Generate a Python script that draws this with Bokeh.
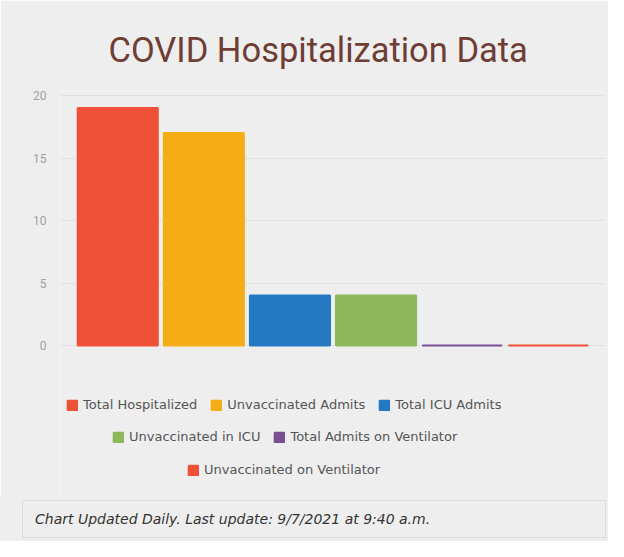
from bokeh.plotting import figure
from bokeh.models import (ColumnDataSource, FactorRange, Range1d, Legend, LegendItem,
                          FixedTicker, Div)
from bokeh.layouts import column
from bokeh.embed import file_html
from bokeh.resources import INLINE

categories = ["Total Hospitalized", "Unvaccinated Admits", "Total ICU Admits",
              "Unvaccinated in ICU", "Total Admits on Ventilator", "Unvaccinated on Ventilator"]
values = [19, 17, 4, 4, 0, 0]
colors = ["#ef5137", "#f5ad14", "#2479c3", "#8db75b", "#7a4e94", "#ef5137"]
y_ticks = [0, 5, 10, 15, 20]
title_text = "COVID Hospitalization Data"
footer_text = "Chart Updated Daily. Last update: 9/7/2021 at 9:40 a.m."

BG = "#eeeeee"

src = ColumnDataSource(dict(cat=categories, val=values, color=colors))

p = figure(width=608, height=495, output_backend="svg", toolbar_location=None,
           x_range=FactorRange(factors=categories, range_padding=0.055,
                               range_padding_units="percent"),
           y_range=Range1d(-12, 20.32),
           background_fill_color=BG, border_fill_color=BG,
           min_border_left=60, min_border_right=3, min_border_top=91,
           min_border_bottom=0, outline_line_color=None)

p.title.text = title_text
p.title.align = "left"
p.title.offset = 48
p.title.text_font = "Roboto"
p.title.text_font_style = "normal"
p.title.text_font_size = "34.5px"
p.title.text_color = "#6e3d33"
p.title.standoff = 44

r = p.vbar(x="cat", top="val", width=0.93, source=src, fill_color="color",
           line_color="color", line_width=2)

p.xaxis.visible = False
p.xgrid.grid_line_color = None
p.ygrid.grid_line_color = "#e2e2e2"
p.ygrid.ticker = FixedTicker(ticks=y_ticks)
p.yaxis.ticker = FixedTicker(ticks=y_ticks)
p.yaxis.axis_line_color = None
p.yaxis.major_tick_line_color = None
p.yaxis.minor_tick_line_color = None
p.yaxis.major_label_text_color = "#a0a0a0"
p.yaxis.major_label_text_font = "Roboto"
p.yaxis.major_label_text_font_size = "12px"
p.yaxis.major_label_standoff = 8

rows = [[0, 1, 2], [3, 4], [5]]
row_pos = [(6, 83), (52, 51), (127, 18)]
for row, loc in zip(rows, row_pos):
    items = [LegendItem(label=categories[i], renderers=[r], index=i) for i in row]
    leg = Legend(items=items, orientation="horizontal", location=loc,
                 background_fill_alpha=0, border_line_color=None,
                 glyph_width=12, glyph_height=12, label_height=14,
                 label_standoff=5, spacing=13,
                 label_text_font="DejaVu Sans", label_text_font_size="13px",
                 label_text_color="#555555", label_text_baseline="middle",
                 padding=0, margin=0)
    p.add_layout(leg, "center")

footer = Div(
    text=('<div style="box-sizing:border-box; width:608px; height:46px; '
          'background-color:#eeeeee; padding:5px 2px 3px 22px;">'
          '<div style="box-sizing:border-box; width:584px; height:38px; '
          'border:1px solid #dcdcdc; display:flex; align-items:center; padding-left:12px; '
          'font-family:\'DejaVu Sans\'; font-style:italic; font-size:14px; color:#333333;">'
          + footer_text + '</div></div>'),
    width=608, height=46, margin=0,
    styles={"background-color": BG})

layout = column(p, footer, spacing=0)
open("out.html", "w").write(file_html(layout, INLINE))
